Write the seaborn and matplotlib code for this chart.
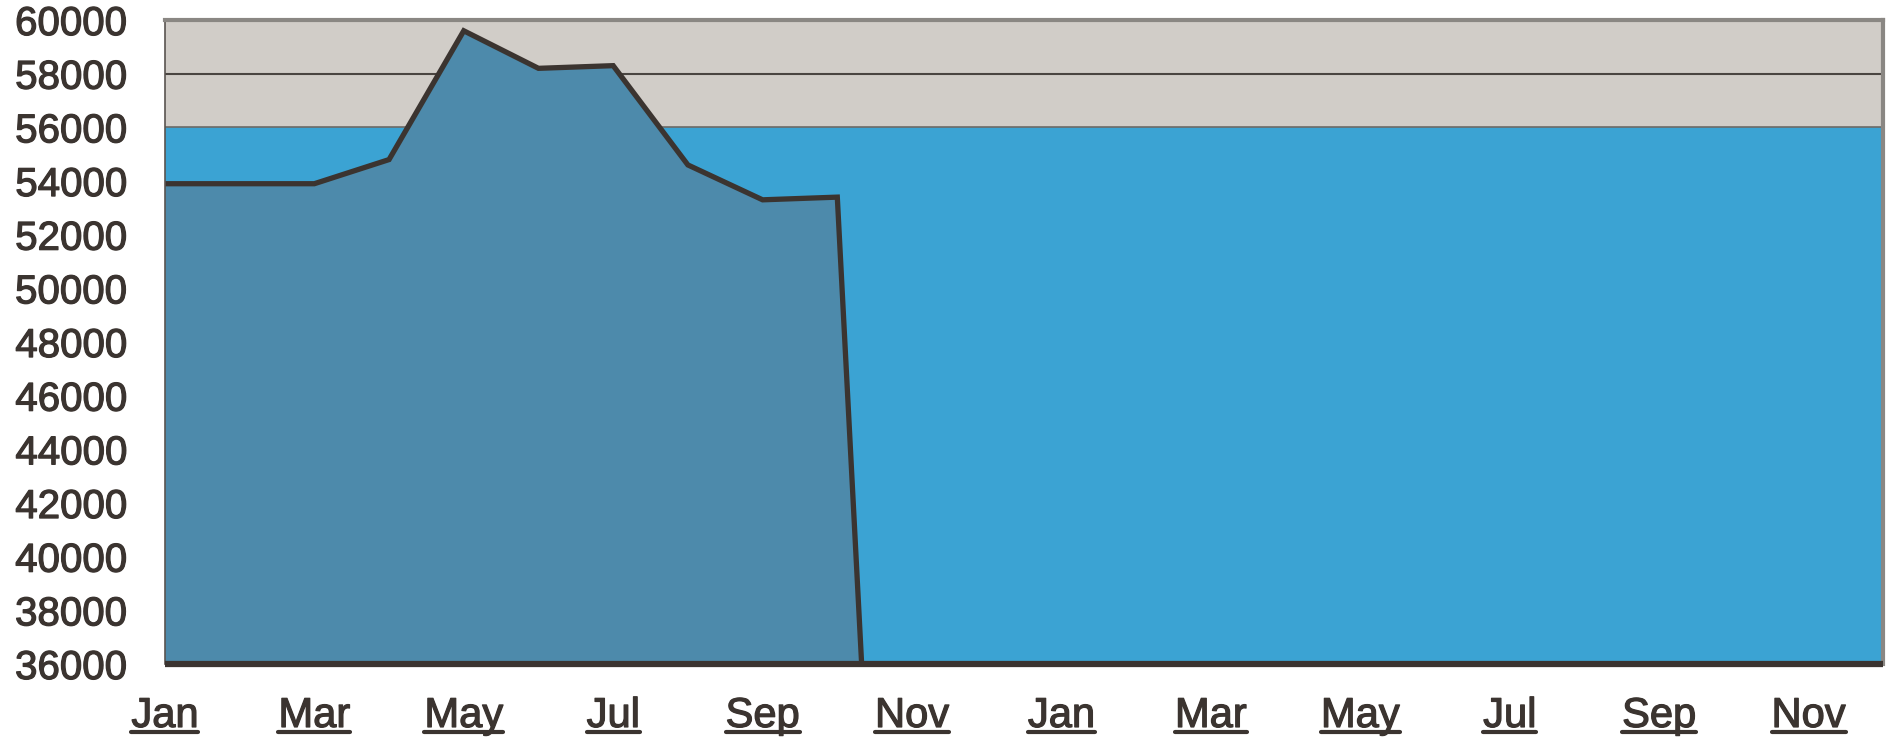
import numpy as np
import pandas as pd
import matplotlib
matplotlib.use("Agg")
import matplotlib.pyplot as plt
import matplotlib.patheffects as pe
from matplotlib.lines import Line2D
import seaborn as sns

# ---- data ----
month_names = ["Jan", "Feb", "Mar", "Apr", "May", "Jun",
               "Jul", "Aug", "Sep", "Oct", "Nov", "Dec"] * 2
values = [53900, 53900, 53900, 54800, 59600, 58200,
          58300, 54600, 53300, 53400, 0]
y_ticks = list(range(36000, 60001, 2000))
band_edges = [36000, 56000, 60000]
band_colors = ["#3ba3d3", "#d1cdc8"]
ref_level = 58000

sns.set_theme(style="white")
plt.rcParams["font.family"] = ["Liberation Sans", "DejaVu Sans"]

TEXT = "#3b3430"
LINE = "#3b3430"
FILL = "#4d8aab"

fig = plt.figure(figsize=(18.87, 7.45), dpi=100)
ax = fig.add_axes([0.0874, 0.1087, 0.9106, 0.8644])

ax.set_xlim(0, len(month_names) - 1)
ax.set_ylim(band_edges[0], band_edges[-1])

for lo, hi, c in zip(band_edges[:-1], band_edges[1:], band_colors):
    ax.axhspan(lo, hi, color=c, zorder=0, lw=0)
ax.axhline(band_edges[1], color="#6d6a66", lw=1.2, zorder=1)
ax.axhline(ref_level, color="#4a4541", lw=1.5, zorder=1)

df = pd.DataFrame({"x": np.arange(len(values)), "y": values})
ax.fill_between(df["x"], 0, df["y"], color=FILL, lw=0, zorder=2)
sns.lineplot(data=df, x="x", y="y", ax=ax, color=LINE, lw=3.8,
             sort=False, zorder=3, solid_joinstyle="miter")

ax.set_xlabel("")
ax.set_ylabel("")
tick_pos = np.arange(0, len(month_names), 2)
ax.set_xticks(tick_pos)
ax.set_xticklabels([month_names[i] for i in tick_pos])
ax.set_yticks(y_ticks)
ax.set_yticklabels([str(v) for v in y_ticks])
ax.tick_params(axis="x", length=0, labelsize=30, colors=TEXT, pad=23)
ax.tick_params(axis="y", length=0, labelsize=29, colors=TEXT, pad=27)

thicken = [pe.withStroke(linewidth=0.9, foreground=TEXT)]
for lab in ax.get_xticklabels() + ax.get_yticklabels():
    lab.set_path_effects(thicken)

for side in ["top", "right"]:
    ax.spines[side].set_color("#8a8783")
    ax.spines[side].set_linewidth(3)
ax.spines["left"].set_color("#5a5450")
ax.spines["left"].set_linewidth(1.2)
ax.spines["bottom"].set_color(LINE)
ax.spines["bottom"].set_linewidth(4.5)
ax.spines["bottom"].set_capstyle("butt")
for s in ax.spines.values():
    s.set_zorder(4)

# underline the month labels
fig.canvas.draw()
renderer = fig.canvas.get_renderer()
inv = fig.transFigure.inverted()
fig_h = fig.get_size_inches()[1] * fig.dpi
for lab in ax.get_xticklabels():
    bb = lab.get_window_extent(renderer)
    (x0, y0), (x1, _) = inv.transform([[bb.x0, bb.y0], [bb.x1, bb.y1]])
    yu = y0 + 4.0 / fig_h
    fig.add_artist(Line2D([x0, x1], [yu, yu],
                          transform=fig.transFigure, color=TEXT, lw=3))

fig.savefig("out.png", dpi=100, facecolor="white")
